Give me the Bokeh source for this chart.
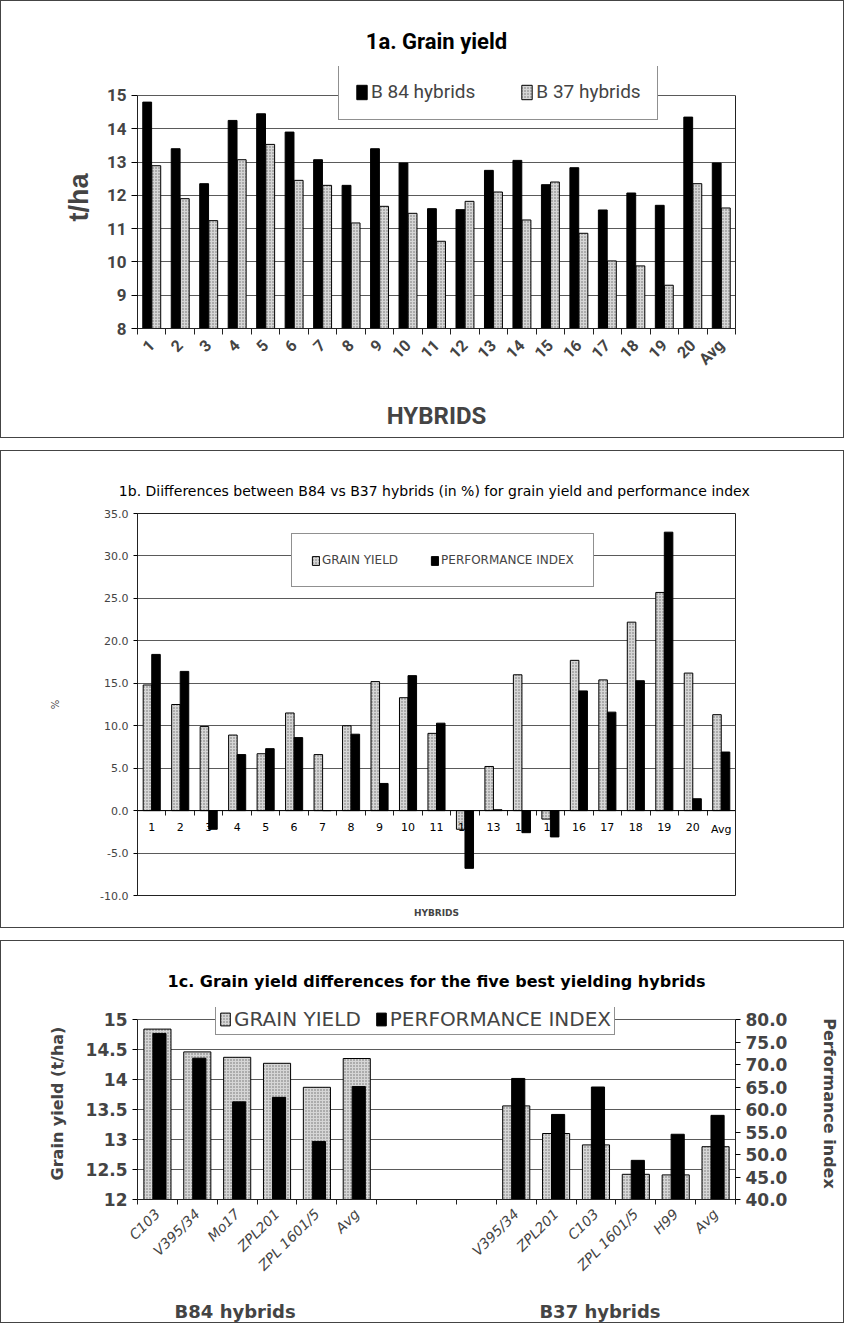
import math
from bokeh.plotting import figure
from bokeh.layouts import column
from bokeh.models import (Range1d, LinearAxis, FixedTicker, Legend, LegendItem, Grid,
                          NumeralTickFormatter, ColumnDataSource, Span)
from bokeh.transform import dodge
from bokeh.embed import file_html
from bokeh.resources import INLINE
from bokeh.core.properties import value

# ---------------- data ----------------
hybrids = [str(i) for i in range(1, 21)] + ["Avg"]
b84_yield = [14.80, 13.40, 12.35, 14.25, 14.45, 13.90, 13.07, 12.30, 13.40, 12.97, 11.60,
             11.57, 12.75, 13.05, 12.32, 12.83, 11.56, 12.07, 11.70, 14.35, 12.97]
b37_yield = [12.89, 11.90, 11.24, 13.07, 13.53, 12.45, 12.30, 11.17, 11.67, 11.46, 10.62,
             11.82, 12.10, 11.26, 12.40, 10.86, 10.03, 9.88, 9.30, 12.35, 11.62]
yield_ticks = [8, 9, 10, 11, 12, 13, 14, 15]

diff_yield = [14.8, 12.5, 9.9, 8.9, 6.7, 11.5, 6.6, 10.0, 15.2, 13.3, 9.1,
              -2.2, 5.2, 16.0, -1.0, 17.7, 15.4, 22.2, 25.7, 16.2, 11.3]
diff_pi = [18.4, 16.4, -2.2, 6.6, 7.3, 8.6, 0.0, 9.0, 3.2, 15.9, 10.3,
           -6.8, 0.1, -2.6, -3.1, 14.1, 11.6, 15.3, 32.8, 1.4, 6.9]
diff_ticks = [-10, -5, 0, 5, 10, 15, 20, 25, 30, 35]

best_b84 = ["C103", "V395/34", "Mo17", "ZPL201", "ZPL 1601/5", "Avg"]
best_b84_yield = [14.84, 14.46, 14.37, 14.27, 13.87, 14.35]
best_b84_pi = [76.9, 71.4, 61.7, 62.7, 52.9, 65.1]
best_b37 = ["V395/34", "ZPL201", "C103", "ZPL 1601/5", "H99", "Avg"]
best_b37_yield = [13.56, 13.10, 12.91, 12.42, 12.41, 12.88]
best_b37_pi = [66.9, 58.9, 65.0, 48.7, 54.5, 58.7]
group_names = ["B84 hybrids", "B37 hybrids"]
best_yield_ticks = [12, 12.5, 13, 13.5, 14, 14.5, 15]
best_pi_ticks = [40, 45, 50, 55, 60, 65, 70, 75, 80]

# ---------------- style ----------------
ROB = "Roboto"
DJ = "DejaVu Sans"
ARIAL = "Liberation Sans"
GRID = "#5a5a5a"
FRAME = "#222222"
BORDER = {"border": "1px solid #444"}
GRAY = dict(fill_color="#d6d6d6", hatch_pattern="dot", hatch_color="#6e6e6e",
            hatch_scale=3, hatch_weight=1, line_color="black", line_width=1)
BLACK = dict(fill_color="black", line_color="black", line_width=1)


def set_title(p, text, font, size, style, standoff):
    p.title.text = text
    p.title.align = "center"
    p.title.text_font = font
    p.title.text_font_size = size
    p.title.text_font_style = style
    p.title.text_color = "black"
    try:
        p.title.standoff = standoff
    except AttributeError:
        pass


def no_ticks(ax):
    ax.major_tick_line_color = None
    ax.minor_tick_line_color = None


# ---------------- 1a ----------------
x1 = list(range(1, len(hybrids) + 1))
between1 = [v - 0.5 for v in x1] + [x1[-1] + 0.5]
p1 = figure(width=844, height=438, x_range=Range1d(0.5, len(hybrids) + 0.5),
            y_range=Range1d(yield_ticks[0], 15.87), x_axis_type=None, y_axis_type=None,
            output_backend="svg", toolbar_location=None,
            min_border_left=86, min_border_right=57, min_border_top=65,
            min_border_bottom=111, styles=BORDER)
p1.outline_line_color = None
p1.background_fill_color = "white"
src1 = ColumnDataSource(dict(x=x1, b84=b84_yield, b37=b37_yield))
r84 = p1.vbar(x=dodge("x", -0.16), top="b84", bottom=yield_ticks[0], width=0.31,
              source=src1, **BLACK)
r37 = p1.vbar(x=dodge("x", 0.16), top="b37", bottom=yield_ticks[0], width=0.31,
              source=src1, **GRAY)

ax1x = LinearAxis(ticker=FixedTicker(ticks=x1, minor_ticks=between1),
                  major_label_overrides={v: h for v, h in zip(x1, hybrids)})
ax1x.major_label_orientation = math.pi / 4
ax1x.major_tick_line_color = None
ax1x.minor_tick_out = 6
ax1x.minor_tick_in = 0
ax1x.minor_tick_line_color = FRAME
ax1x.axis_line_color = FRAME
ax1x.major_label_text_font = ROB
ax1x.major_label_text_font_style = "bold"
ax1x.major_label_text_font_size = "16px"
ax1x.major_label_standoff = 8
ax1x.axis_label = "HYBRIDS"
ax1x.axis_label_text_font = ROB
ax1x.axis_label_text_font_style = "bold"
ax1x.axis_label_text_font_size = "24px"
ax1x.axis_label_standoff = 24
p1.add_layout(ax1x, "below")

ax1y = LinearAxis(ticker=FixedTicker(ticks=yield_ticks), bounds=(yield_ticks[0], yield_ticks[-1]))
ax1y.major_tick_out = 6
ax1y.major_tick_in = 0
ax1y.minor_tick_line_color = None
ax1y.axis_line_color = FRAME
ax1y.major_label_text_font = ROB
ax1y.major_label_text_font_style = "bold"
ax1y.major_label_text_font_size = "17px"
ax1y.axis_label = "t/ha"
ax1y.axis_label_text_font = ARIAL
ax1y.axis_label_text_font_style = "bold"
ax1y.axis_label_text_font_size = "27px"
ax1y.axis_label_standoff = 10
p1.add_layout(ax1y, "left")

ax1r = LinearAxis(ticker=FixedTicker(ticks=[]), bounds=(yield_ticks[0], yield_ticks[-1]))
no_ticks(ax1r)
ax1r.axis_line_color = FRAME
p1.add_layout(ax1r, "right")
p1.add_layout(Grid(dimension=1, ticker=ax1y.ticker, grid_line_color=GRID))

set_title(p1, "1a. Grain yield", ROB, "22px", "bold", 25)

leg1 = Legend(items=[LegendItem(label="B 84 hybrids", renderers=[r84]),
                     LegendItem(label="B 37 hybrids", renderers=[r37])],
              orientation="horizontal", location=(201, 208), margin=0, padding=16,
              spacing=45, glyph_width=13, glyph_height=18, label_standoff=3,
              label_text_font=ROB, label_text_font_size="19px",
              border_line_color=FRAME, background_fill_alpha=1)
p1.add_layout(leg1, "center")

# ---------------- 1b ----------------
p2 = figure(width=844, height=478, x_range=Range1d(0.5, len(hybrids) + 0.5),
            y_range=Range1d(diff_ticks[0], diff_ticks[-1]), x_axis_type=None, y_axis_type=None,
            output_backend="svg", toolbar_location=None,
            min_border_left=107, min_border_right=99, min_border_top=62,
            min_border_bottom=34, styles=BORDER)
p2.outline_line_color = FRAME
p2.background_fill_color = "white"
src2 = ColumnDataSource(dict(x=x1, gy=diff_yield, pi=diff_pi, lab=hybrids, base=[0] * len(x1)))

ax2y = LinearAxis(ticker=FixedTicker(ticks=diff_ticks), formatter=NumeralTickFormatter(format="0.0"))
ax2y.major_tick_out = 4
ax2y.major_tick_in = 0
ax2y.minor_tick_line_color = None
ax2y.axis_line_color = FRAME
ax2y.major_label_text_font = DJ
ax2y.major_label_text_font_size = "11px"
ax2y.axis_label = "%"
ax2y.axis_label_text_font = DJ
ax2y.axis_label_text_font_style = "normal"
ax2y.axis_label_text_font_size = "10px"
ax2y.axis_label_standoff = 36
p2.add_layout(ax2y, "left")
p2.add_layout(Grid(dimension=1, ticker=ax2y.ticker, grid_line_color=GRID))

rgy = p2.vbar(x=dodge("x", -0.15), top="gy", bottom=0, width=0.3, source=src2, **GRAY)
rpi = p2.vbar(x=dodge("x", 0.15), top="pi", bottom=0, width=0.3, source=src2, **BLACK)
p2.add_layout(Span(location=0, dimension="width", line_color="black", line_width=1))
p2.text(x="x", y="base", text="lab", source=src2, text_align="center", text_baseline="top",
        y_offset=12, text_font=value(DJ), text_font_size="11px", text_color="black")

# category separator ticks on the zero line
ax2z = LinearAxis(ticker=FixedTicker(ticks=[], minor_ticks=between1), fixed_location=0)
ax2z.axis_line_color = None
ax2z.major_tick_line_color = None
ax2z.minor_tick_out = 5
ax2z.minor_tick_in = 0
ax2z.minor_tick_line_color = FRAME
p2.add_layout(ax2z, "below")

ax2x = LinearAxis(ticker=FixedTicker(ticks=[]))
ax2x.axis_line_color = None
no_ticks(ax2x)
ax2x.axis_label = "HYBRIDS"
ax2x.axis_label_text_font = DJ
ax2x.axis_label_text_font_style = "bold"
ax2x.axis_label_text_font_size = "9px"
ax2x.axis_label_standoff = 12
p2.add_layout(ax2x, "below")

set_title(p2, "1b. Diifferences between B84 vs B37 hybrids (in %)  for grain yield and performance index",
          DJ, "14px", "normal", 30)

leg2 = Legend(items=[LegendItem(label="GRAIN YIELD", renderers=[rgy]),
                     LegendItem(label="PERFORMANCE INDEX", renderers=[rpi])],
              orientation="horizontal", location=(154, 308), margin=0, padding=19,
              spacing=32, glyph_width=9, glyph_height=11, label_standoff=2,
              label_text_font=DJ, label_text_font_size="12px",
              border_line_color=FRAME, background_fill_alpha=1)
p2.add_layout(leg2, "center")

# ---------------- 1c ----------------
GAP = 3
HEADROOM = 0.2  # extra room above the top tick so the legend box can sit on the top line
x3a = list(range(len(best_b84)))
x3b = [len(best_b84) + GAP + i for i in range(len(best_b37))]
n3 = len(best_b84) + GAP + len(best_b37)
yl0, yl1 = best_yield_ticks[0], best_yield_ticks[-1]
pl0, pl1 = best_pi_ticks[0], best_pi_ticks[-1]
p3 = figure(width=844, height=383, x_range=Range1d(-0.5, n3 - 0.5),
            y_range=Range1d(yl0, yl1 + HEADROOM),
            x_axis_type=None, y_axis_type=None,
            output_backend="svg", toolbar_location=None,
            min_border_left=136, min_border_right=110, min_border_top=66,
            min_border_bottom=113, styles=BORDER)
p3.outline_line_color = None
p3.background_fill_color = "white"
p3.extra_y_ranges = {"pi": Range1d(pl0, pl1 + HEADROOM * (pl1 - pl0) / (yl1 - yl0))}

ax3y = LinearAxis(ticker=FixedTicker(ticks=best_yield_ticks), bounds=(yl0, yl1),
                  formatter=NumeralTickFormatter(format="0.[0]"))
ax3y.major_tick_out = 5
ax3y.major_tick_in = 0
ax3y.minor_tick_line_color = None
ax3y.axis_line_color = FRAME
ax3y.major_label_text_font = DJ
ax3y.major_label_text_font_style = "bold"
ax3y.major_label_text_font_size = "17px"
ax3y.axis_label = "Grain yield (t/ha)"
ax3y.axis_label_text_font = DJ
ax3y.axis_label_text_font_style = "bold"
ax3y.axis_label_text_font_size = "16px"
ax3y.axis_label_standoff = 16
p3.add_layout(ax3y, "left")
p3.add_layout(Grid(dimension=1, ticker=ax3y.ticker, grid_line_color=GRID))

src3 = ColumnDataSource(dict(x=x3a + x3b, gy=best_b84_yield + best_b37_yield,
                             pi=best_b84_pi + best_b37_pi))
r3gy = p3.vbar(x="x", top="gy", bottom=yl0, width=0.68, source=src3, **GRAY)
r3pi = p3.vbar(x=dodge("x", 0.05), top="pi", bottom=pl0, width=0.33, source=src3,
               y_range_name="pi", **BLACK)

ax3x = LinearAxis(ticker=FixedTicker(ticks=x3a + x3b,
                                     minor_ticks=[i - 0.5 for i in range(n3 + 1)]),
                  major_label_overrides={v: h for v, h in zip(x3a + x3b, best_b84 + best_b37)})
ax3x.major_label_orientation = math.pi / 4
ax3x.major_tick_line_color = None
ax3x.minor_tick_out = 5
ax3x.minor_tick_in = 0
ax3x.minor_tick_line_color = FRAME
ax3x.axis_line_color = FRAME
ax3x.major_label_text_font = DJ
ax3x.major_label_text_font_style = "italic"
ax3x.major_label_text_font_size = "14px"
ax3x.major_label_standoff = 6
p3.add_layout(ax3x, "below")

grp_pos = [(x3a[0] + x3a[-1]) / 2 - 0.55, (x3b[0] + x3b[-1]) / 2 - 0.4]
ax3g = LinearAxis(ticker=FixedTicker(ticks=grp_pos),
                  major_label_overrides={v: g for v, g in zip(grp_pos, group_names)})
ax3g.axis_line_color = None
no_ticks(ax3g)
ax3g.major_label_text_font = DJ
ax3g.major_label_text_font_style = "bold"
ax3g.major_label_text_font_size = "18px"
ax3g.major_label_standoff = 12
p3.add_layout(ax3g, "below")

ax3r = LinearAxis(y_range_name="pi", ticker=FixedTicker(ticks=best_pi_ticks), bounds=(pl0, pl1),
                  formatter=NumeralTickFormatter(format="0.0"))
ax3r.major_tick_out = 5
ax3r.major_tick_in = 0
ax3r.minor_tick_line_color = None
ax3r.axis_line_color = FRAME
ax3r.major_label_text_font = DJ
ax3r.major_label_text_font_style = "bold"
ax3r.major_label_text_font_size = "17px"
ax3r.axis_label = "Performance index"
ax3r.axis_label_text_font = DJ
ax3r.axis_label_text_font_style = "bold"
ax3r.axis_label_text_font_size = "16px"
ax3r.axis_label_standoff = 30
p3.add_layout(ax3r, "right")

set_title(p3, "1c. Grain yield differences for the five best yielding hybrids", DJ, "16px", "bold", 33)

leg3 = Legend(items=[LegendItem(label="GRAIN YIELD", renderers=[r3gy]),
                     LegendItem(label="PERFORMANCE INDEX", renderers=[r3pi])],
              orientation="horizontal", location=(78, 164), margin=0, padding=3,
              spacing=14, glyph_width=12, glyph_height=16, label_standoff=3,
              label_text_font=DJ, label_text_font_size="20px",
              border_line_color=FRAME, background_fill_alpha=1)
p3.add_layout(leg3, "center")

layout = column(p1, p2, p3, spacing=12)
open("out.html", "w").write(file_html(layout, INLINE))
